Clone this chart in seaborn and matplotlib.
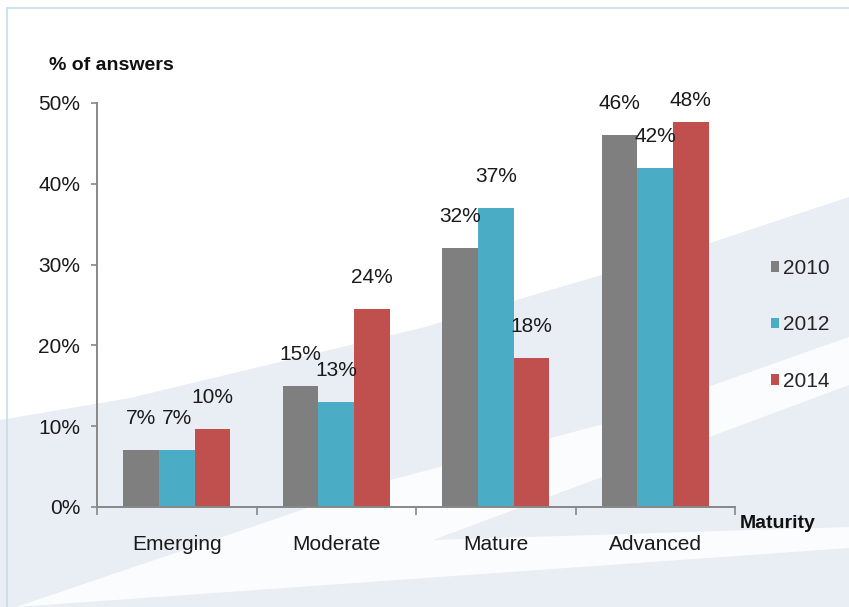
import matplotlib
matplotlib.use("Agg")
import matplotlib.pyplot as plt
from matplotlib.patches import Polygon
from matplotlib.lines import Line2D
import seaborn as sns
import pandas as pd
import numpy as np

# ---- data ----
categories = ["Emerging", "Moderate", "Mature", "Advanced"]
years = ["2010", "2012", "2014"]
values_2010 = [7.0, 15.0, 32.0, 46.0]
values_2012 = [7.0, 13.0, 37.0, 42.0]
values_2014 = [9.7, 24.5, 18.4, 47.6]
labels_2010 = ["7%", "15%", "32%", "46%"]
labels_2012 = ["7%", "13%", "37%", "42%"]
labels_2014 = ["10%", "24%", "18%", "48%"]
y_ticks = [0, 10, 20, 30, 40, 50]
y_tick_labels = ["0%", "10%", "20%", "30%", "40%", "50%"]
colors = ["#7f7f7f", "#4bacc6", "#c0504d"]

df = pd.DataFrame({
    "Maturity": categories * 3,
    "Year": [years[0]] * 4 + [years[1]] * 4 + [years[2]] * 4,
    "Value": values_2010 + values_2012 + values_2014,
})
all_labels = [labels_2010, labels_2012, labels_2014]

sns.set_theme(style="white")
plt.rcParams["font.family"] = ["Liberation Sans", "DejaVu Sans"]

W, H = 849, 607
fig = plt.figure(figsize=(W / 100, H / 100), dpi=100)
fig.patch.set_facecolor("white")

def px(points):
    return [(x / W, 1 - y / H) for x, y in points]

def deco(points, color):
    fig.add_artist(Polygon(px(points), closed=True, transform=fig.transFigure,
                           facecolor=color, edgecolor="none", zorder=0))

bg = "#e9edf4"
white = "#fbfcfd"
# background decoration (diagonal stripes)
deco([(0, 420), (130, 398), (425, 327), (710, 243), (849, 197), (849, 607), (0, 607)], bg)
deco([(16, 607), (390, 480), (600, 425), (849, 337), (849, 548)], white)
deco([(433, 540), (849, 385), (849, 527)], bg)
# frame lines
fig.add_artist(Line2D([7 / W, 1], [1 - 8 / H, 1 - 8 / H], transform=fig.transFigure,
                      color="#c6dde9", lw=1.2, zorder=1))
fig.add_artist(Line2D([7 / W, 7 / W], [0, 1 - 8 / H], transform=fig.transFigure,
                      color="#c6dde9", lw=1.2, zorder=1))

ax = fig.add_axes([97 / W, 1 - 507 / H, (735 - 97) / W, (507 - 103) / H])
ax.set_facecolor("none")

sns.barplot(data=df, x="Maturity", y="Value", hue="Year", order=categories,
            hue_order=years, palette=colors, width=0.67, gap=0, saturation=1,
            errorbar=None, linewidth=0, ax=ax, zorder=2)

label_gap = 3.9     # data units between bar top and label centre
label_ceiling = 50.25
for container, labs in zip(ax.containers, all_labels):
    for bar, lab in zip(container, labs):
        ypos = min(bar.get_height() + label_gap, label_ceiling)
        ax.text(bar.get_x() + bar.get_width() / 2, ypos, lab, ha="center",
                va="center", fontsize=15, color="#1a1a1a")

ax.set_xlim(-0.5, 3.5)
ax.set_ylim(0, 50)
ax.set_yticks(y_ticks)
ax.set_yticklabels(y_tick_labels, fontsize=15, color="#1a1a1a")
ax.tick_params(axis="y", direction="out", length=4, width=1.2, color="#888888",
               pad=8, left=True)
ax.set_xticks([-0.5, 0.5, 1.5, 2.5, 3.5])
ax.set_xticklabels([])
ax.set_xticks([0, 1, 2, 3], minor=True)
ax.set_xticklabels(categories, minor=True, fontsize=15, color="#1a1a1a")
ax.tick_params(axis="x", which="major", direction="out", length=6, width=1.2,
               color="#888888", bottom=True)
ax.tick_params(axis="x", which="minor", length=0, pad=20)
ax.set_xlabel("")
ax.set_ylabel("")
for s in ["top", "right"]:
    ax.spines[s].set_visible(False)
for s in ["left", "bottom"]:
    ax.spines[s].set_color("#888888")
    ax.spines[s].set_linewidth(1.4)

sns.move_legend(ax, loc="center left", bbox_to_anchor=(771 / W, 1 - 325 / H),
                bbox_transform=fig.transFigure, frameon=False, title=None,
                fontsize=15, handlelength=0.4, handleheight=0.4,
                handletextpad=0.2, labelspacing=1.8, borderpad=0, borderaxespad=0)

fig.text(49 / W, 1 - 65 / H, "% of answers", fontsize=14, fontweight="bold",
         ha="left", va="center", color="#111111")
fig.text(740 / W, 1 - 524 / H, "Maturity", fontsize=14, fontweight="bold",
         ha="left", va="center", color="#111111")

fig.savefig("out.png", dpi=100, facecolor=fig.get_facecolor())
